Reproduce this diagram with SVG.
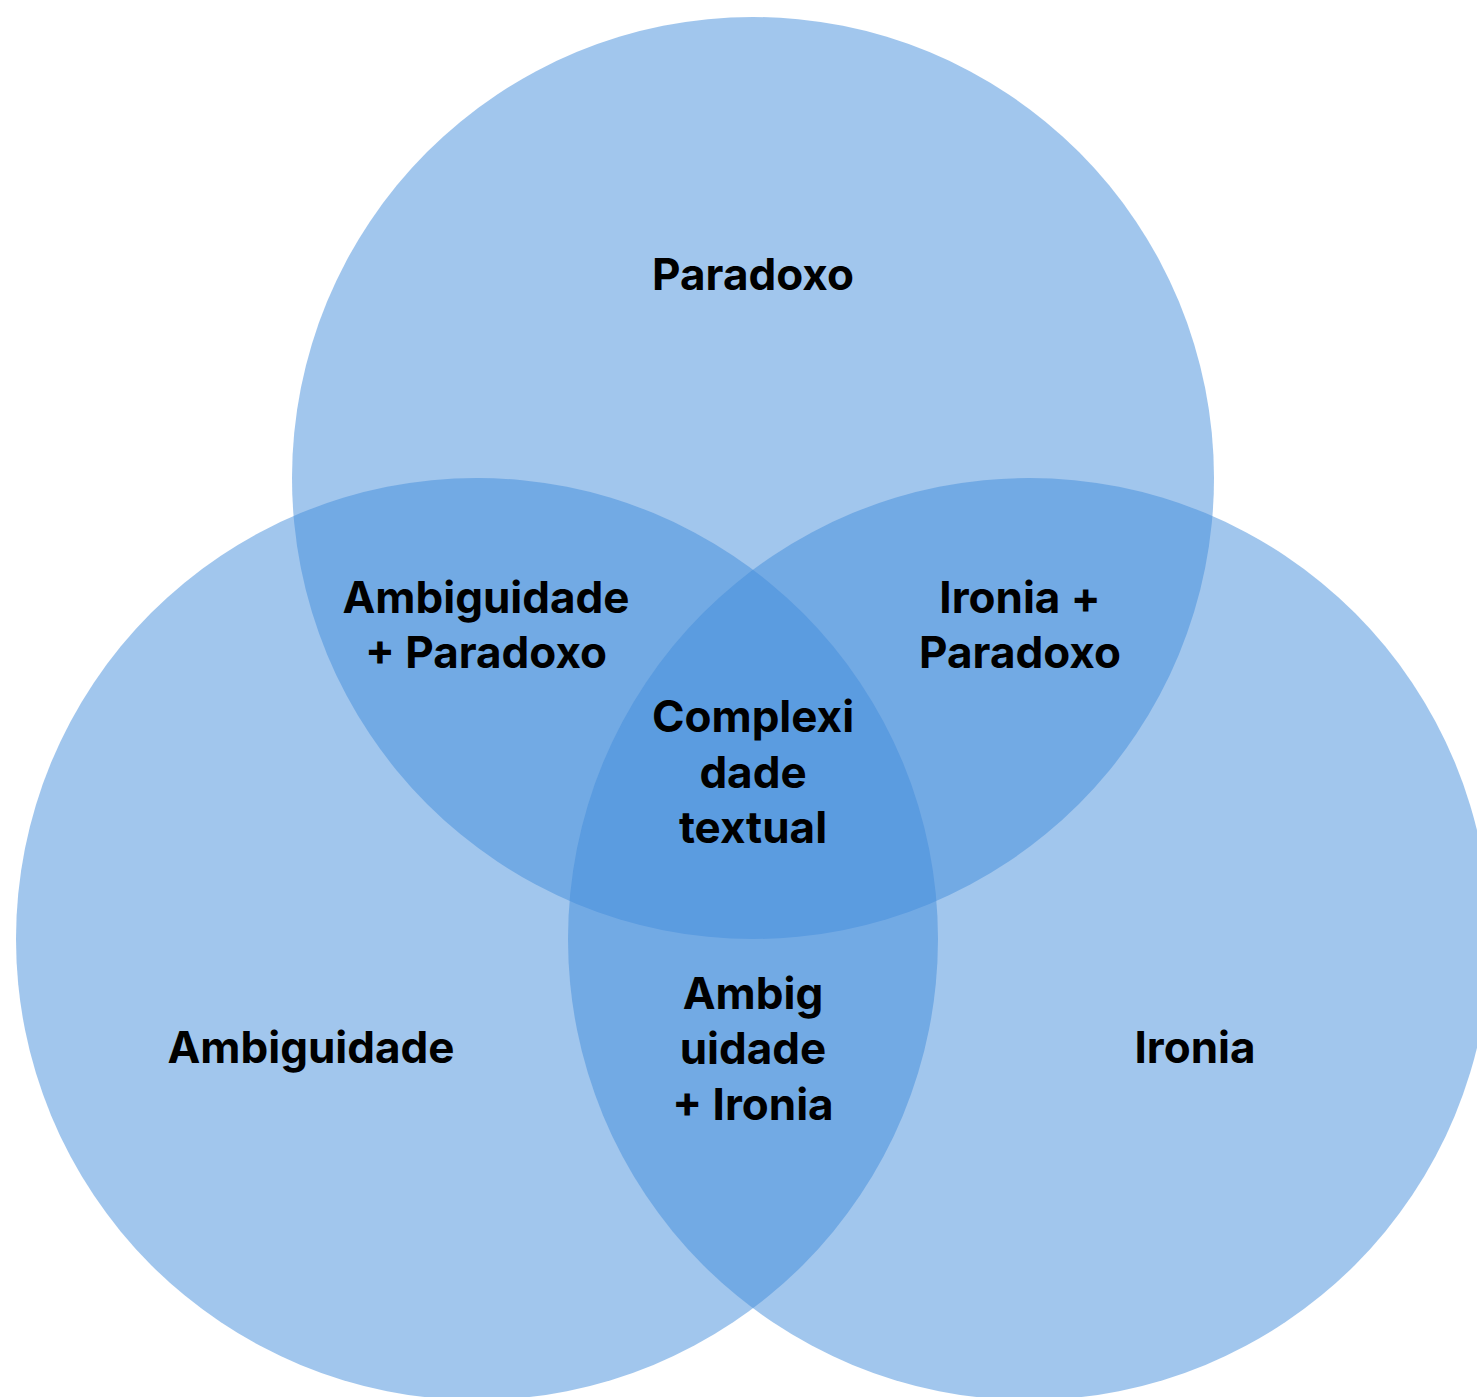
<svg xmlns="http://www.w3.org/2000/svg" width="1477" height="1397" viewBox="0 0 1477 1397">
<style>
.c{fill:#438DDB;fill-opacity:0.5}
.t{font-family:Inter,"Liberation Sans",sans-serif;font-weight:700;font-size:44px;fill:#000;text-anchor:middle}
</style>
<rect width="1477" height="1397" fill="#fff"/>
<g id="circle-paradoxo"><circle class="c" cx="753" cy="478" r="461"/></g>
<g id="circle-ambiguidade"><circle class="c" cx="477" cy="939" r="461"/></g>
<g id="circle-ironia"><circle class="c" cx="1029" cy="939" r="461"/></g>
<g id="connectors"></g>
<g id="label-paradoxo"><text class="t" x="753" y="290">Paradoxo</text></g>
<g id="label-amb-par"><text class="t" x="486" y="613">Ambiguidade</text><text class="t" x="486" y="668">+ Paradoxo</text></g>
<g id="label-iro-par"><text class="t" x="1020" y="613">Ironia +</text><text class="t" x="1020" y="668">Paradoxo</text></g>
<g id="label-center"><text class="t" x="753" y="732">Complexi</text><text class="t" x="753" y="788">dade</text><text class="t" x="753" y="843">textual</text></g>
<g id="label-amb-iro"><text class="t" x="753" y="1009">Ambig</text><text class="t" x="753" y="1064">uidade</text><text class="t" x="753" y="1120">+ Ironia</text></g>
<g id="label-ambiguidade"><text class="t" x="311" y="1063">Ambiguidade</text></g>
<g id="label-ironia"><text class="t" x="1195" y="1063">Ironia</text></g>
</svg>
